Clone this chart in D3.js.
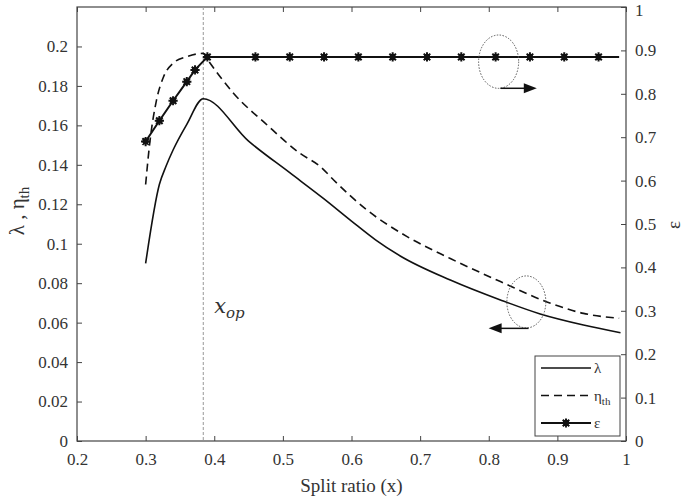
<!DOCTYPE html>
<html>
<head>
<meta charset="utf-8">
<script src="https://cdn.jsdelivr.net/npm/d3@7"></script>
<style>
body { margin: 0; background: #fff; }
text { font-family: "Liberation Serif", "Times New Roman", serif; fill: #333; }
</style>
</head>
<body>
<div id="chart"></div>
<script>
// data
var lambdaX = [0.30, 0.32, 0.33, 0.34, 0.36, 0.384, 0.45, 0.51, 0.559, 0.60, 0.635, 0.671, 0.744, 0.817, 0.875, 0.938, 0.992];
var lambdaY = [0.090, 0.130, 0.1395, 0.1475, 0.1605, 0.1735, 0.152, 0.136, 0.123, 0.1115, 0.102, 0.0938, 0.0816, 0.0715, 0.0644, 0.0588, 0.0549];

var etaX = [0.30, 0.306, 0.316, 0.326, 0.34, 0.36, 0.384, 0.389, 0.428, 0.477, 0.525, 0.555, 0.574, 0.6225, 0.681, 0.744, 0.817, 0.89, 0.938, 0.99];
var etaY = [0.130, 0.151, 0.173, 0.1845, 0.1915, 0.1948, 0.1965, 0.194, 0.1763, 0.1602, 0.1458, 0.139, 0.1323, 0.1171, 0.1036, 0.0925, 0.0808, 0.0698, 0.0647, 0.0622];

var epsX = [0.30, 0.32, 0.34, 0.36, 0.372, 0.39, 0.46, 0.51, 0.56, 0.61, 0.66, 0.71, 0.76, 0.81, 0.86, 0.91, 0.96, 0.99];
var epsY = [0.690, 0.738, 0.784, 0.828, 0.855, 0.885, 0.885, 0.885, 0.885, 0.885, 0.885, 0.885, 0.885, 0.885, 0.885, 0.885, 0.885, 0.885];

var xTicks = [0.2, 0.3, 0.4, 0.5, 0.6, 0.7, 0.8, 0.9, 1];
var yLeftTicks = [0, 0.02, 0.04, 0.06, 0.08, 0.1, 0.12, 0.14, 0.16, 0.18, 0.2];
var yRightTicks = [0, 0.1, 0.2, 0.3, 0.4, 0.5, 0.6, 0.7, 0.8, 0.9, 1];
var xOpt = 0.384;

var width = 685, height = 499;
var margin = {top: 7, right: 59, bottom: 58, left: 77};
var iw = width - margin.left - margin.right;
var ih = height - margin.top - margin.bottom;

var svg = d3.select("#chart").append("svg")
  .attr("width", width)
  .attr("height", height);

var g = svg.append("g").attr("transform", "translate(" + margin.left + "," + margin.top + ")");

var x = d3.scaleLinear().domain([0.2, 1]).range([0, iw]);
var yL = d3.scaleLinear().domain([0, 0.22]).range([ih, 0]);
var yR = d3.scaleLinear().domain([0, 1]).range([ih, 0]);

var axisColor = "#444";
var fmt = function(d) { return d3.format("")(+d.toFixed(2)); };

function styleAxis(sel) {
  sel.select(".domain").remove();
  sel.selectAll(".tick line").attr("stroke", axisColor).attr("stroke-width", 1);
  sel.selectAll(".tick text").style("font-size", "17px").attr("fill", "#333");
}

g.append("g").attr("transform", "translate(0," + ih + ")")
  .call(d3.axisBottom(x).tickValues(xTicks).tickFormat(fmt).tickSizeInner(-5).tickPadding(12))
  .call(styleAxis);
g.append("g")
  .call(d3.axisTop(x).tickValues(xTicks).tickFormat("").tickSizeInner(-5))
  .call(styleAxis);
g.append("g")
  .call(d3.axisLeft(yL).tickValues(yLeftTicks).tickFormat(fmt).tickSizeInner(-5).tickPadding(9))
  .call(styleAxis);
var rightAx = g.append("g").attr("transform", "translate(" + iw + ",0)")
  .call(d3.axisRight(yR).tickValues(yRightTicks).tickFormat(fmt).tickSizeInner(-5).tickPadding(9))
  .call(styleAxis);
// keep the top label "1" inside the picture
rightAx.selectAll(".tick text").filter(function(d) { return d === 1; }).attr("dy", "0.5em");

// frame
g.append("rect").attr("width", iw).attr("height", ih)
  .attr("fill", "none").attr("stroke", axisColor).attr("stroke-width", 1.2);

// optimum split ratio
g.append("line")
  .attr("x1", x(xOpt)).attr("x2", x(xOpt)).attr("y1", 0).attr("y2", ih)
  .attr("stroke", "#999").attr("stroke-width", 1).attr("stroke-dasharray", "3,2");

var lam = lambdaX.map(function(d, i) { return [d, lambdaY[i]]; });
var eta = etaX.map(function(d, i) { return [d, etaY[i]]; });
var eps = epsX.map(function(d, i) { return [d, epsY[i]]; });

var lineL = d3.line().x(function(d) { return x(d[0]); }).y(function(d) { return yL(d[1]); }).curve(d3.curveMonotoneX);
var lineR = d3.line().x(function(d) { return x(d[0]); }).y(function(d) { return yR(d[1]); });

g.append("path").datum(lam).attr("d", lineL)
  .attr("fill", "none").attr("stroke", "#111").attr("stroke-width", 1.6);
g.append("path").datum(eta).attr("d", lineL)
  .attr("fill", "none").attr("stroke", "#111").attr("stroke-width", 1.6).attr("stroke-dasharray", "8,5");
g.append("path").datum(eps).attr("d", lineR)
  .attr("fill", "none").attr("stroke", "#111").attr("stroke-width", 2);

// matlab style '*' marker
var star8 = {
  draw: function(ctx, size) {
    var r = Math.sqrt(size) / 2;
    for (var k = 0; k < 4; k++) {
      var a = k * Math.PI / 4;
      ctx.moveTo(-r * Math.cos(a), -r * Math.sin(a));
      ctx.lineTo(r * Math.cos(a), r * Math.sin(a));
    }
    ctx.moveTo(2.2, 0);
    ctx.arc(0, 0, 2.2, 0, 2 * Math.PI);
  }
};
var marker = d3.symbol().type(star8).size(85);

function drawMarker(sel) {
  sel.attr("d", marker).attr("stroke", "#111").attr("stroke-width", 2).attr("fill", "#111");
}

g.selectAll(".mk").data(eps.filter(function(d) { return d[0] < 0.98; }))
  .enter().append("path")
  .attr("class", "mk")
  .attr("transform", function(d) { return "translate(" + x(d[0]) + "," + yR(d[1]) + ")"; })
  .call(drawMarker);

// x_op label
var xop = g.append("text")
  .attr("x", x(0.4)).attr("y", yL(0.065))
  .style("font-family", "'DejaVu Serif', serif").style("font-style", "italic").attr("fill", "#222");
xop.append("tspan").style("font-size", "21px").text("x");
xop.append("tspan").style("font-size", "15px").attr("dy", 5).text("op");

// annotation ellipses with arrows
function ellipseArrow(cx, cy, rx, ry, ax1, ax2, ay, yScale) {
  g.append("ellipse")
    .attr("cx", x(cx)).attr("cy", yScale(cy))
    .attr("rx", x(cx + rx) - x(cx)).attr("ry", yScale(cy) - yScale(cy + ry))
    .attr("fill", "none").attr("stroke", "#555").attr("stroke-width", 1).attr("stroke-dasharray", "1.5,1.5");
  var X1 = x(ax1), X2 = x(ax2), Y = yScale(ay);
  var dir = X2 > X1 ? 1 : -1;
  g.append("line").attr("x1", X1).attr("x2", X2 - dir * 12).attr("y1", Y).attr("y2", Y)
    .attr("stroke", "#111").attr("stroke-width", 1.5);
  g.append("path")
    .attr("d", d3.line()([[X2, Y], [X2 - dir * 13, Y - 5], [X2 - dir * 13, Y + 5]]) + "Z")
    .attr("fill", "#111");
}
ellipseArrow(0.8144, 0.874, 0.0292, 0.0615, 0.817, 0.870, 0.8127, yR);
ellipseArrow(0.8548, 0.0705, 0.0284, 0.01318, 0.858, 0.7998, 0.0571, yL);

// axis labels
svg.append("text")
  .attr("x", margin.left + iw / 2).attr("y", 492)
  .attr("text-anchor", "middle").style("font-size", "19px")
  .text("Split ratio (x)");

var yl = svg.append("text")
  .attr("transform", "translate(24,211) rotate(-90)")
  .attr("text-anchor", "middle").style("font-size", "21px");
yl.append("tspan").text("λ , η");
yl.append("tspan").attr("dy", 5).style("font-size", "15px").text("th");

svg.append("text")
  .attr("transform", "translate(680,225) rotate(-90)")
  .attr("text-anchor", "middle").style("font-size", "19px")
  .text("ε");

// legend
var lg = svg.append("g").attr("transform", "translate(535,356)");
lg.append("rect").attr("width", 85).attr("height", 80)
  .attr("fill", "#fff").attr("stroke", "#444").attr("stroke-width", 1);
var items = [
  {name: "λ", sub: "", dash: null, mk: false, w: 1.6},
  {name: "η", sub: "th", dash: "8,5", mk: false, w: 1.6},
  {name: "ε", sub: "", dash: null, mk: true, w: 2}
];
items.forEach(function(it, i) {
  var yy = 12 + i * 27.5;
  lg.append("line").attr("x1", 6).attr("x2", 56).attr("y1", yy).attr("y2", yy)
    .attr("stroke", "#111").attr("stroke-width", it.w).attr("stroke-dasharray", it.dash);
  if (it.mk) {
    lg.append("path").attr("transform", "translate(31," + yy + ")").call(drawMarker);
  }
  var t = lg.append("text").attr("x", 59).attr("y", yy + 5).style("font-size", "15px");
  t.append("tspan").text(it.name);
  if (it.sub) t.append("tspan").attr("dy", 4).style("font-size", "11px").text(it.sub);
});
</script>
</body>
</html>
